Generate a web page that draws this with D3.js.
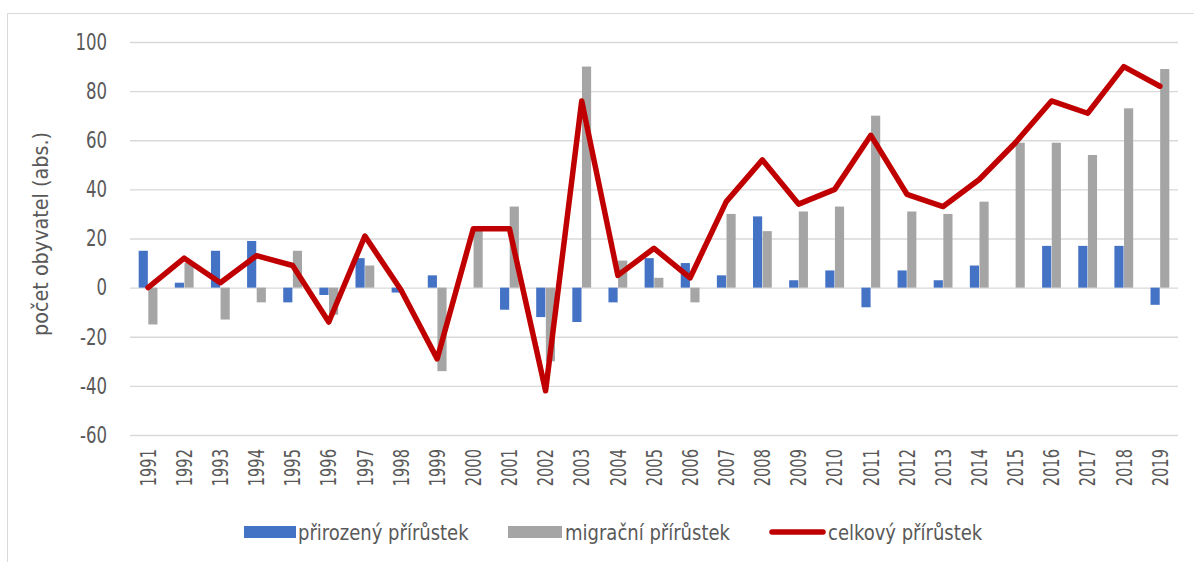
<!DOCTYPE html>
<html>
<head>
<meta charset="utf-8">
<script src="https://cdn.jsdelivr.net/npm/d3@7"></script>
<style>
  body { margin: 0; background: #fff; }
  text { font-family: "Liberation Sans Narrow", "DejaVu Sans Condensed", sans-serif; fill: #595959; }
</style>
</head>
<body>
<div id="chart"></div>
<script>
// data
var years = ["1991","1992","1993","1994","1995","1996","1997","1998","1999","2000",
  "2001","2002","2003","2004","2005","2006","2007","2008","2009","2010",
  "2011","2012","2013","2014","2015","2016","2017","2018","2019"];
var prirozeny = [15, 2, 15, 19, -6, -3, 12, -2, 5, 0,
  -9, -12, -14, -6, 12, 10, 5, 29, 3, 7,
  -8, 7, 3, 9, 0, 17, 17, 17, -7];
var migracni = [-15, 10, -13, -6, 15, -11, 9, 0, -34, 24,
  33, -30, 90, 11, 4, -6, 30, 23, 31, 33,
  70, 31, 30, 35, 59, 59, 54, 73, 89];
var celkovy = [0, 12, 2, 13, 9, -14, 21, -1, -29, 24,
  24, -42, 76, 5, 16, 4, 35, 52, 34, 40,
  62, 38, 33, 44, 59, 76, 71, 90, 82];
var yTicks = [-60, -40, -20, 0, 20, 40, 60, 80, 100];

var svgWidth = 1194, svgHeight = 562;
var plotLeft = 130, plotRight = 1178, plotTop = 42, plotBottom = 435;

var svg = d3.select("#chart").append("svg")
  .attr("width", svgWidth)
  .attr("height", svgHeight);

// chart border
svg.append("rect")
  .attr("x", 7.5).attr("y", 13.5)
  .attr("width", svgWidth).attr("height", svgHeight)
  .attr("fill", "none")
  .attr("stroke", "#d9d9d9");

var xScale = d3.scaleBand().domain(years).range([plotLeft, plotRight]).padding(0);
var xSub = d3.scaleBand().domain(["p", "m"]).range([0, xScale.bandwidth()])
  .paddingInner(0.05).paddingOuter(0.9);
var yScale = d3.scaleLinear().domain([-60, 100]).range([plotBottom, plotTop]);

// gridlines + y labels
var yAxis = d3.axisLeft(yScale).tickValues(yTicks)
  .tickFormat(d => String(d))
  .tickSize(-(plotRight - plotLeft)).tickPadding(22);
var gy = svg.append("g")
  .attr("transform", `translate(${plotLeft},0)`)
  .call(yAxis);
gy.select(".domain").remove();
gy.selectAll(".tick line").attr("stroke", "#d9d9d9").attr("stroke-width", 1.3);
gy.selectAll(".tick text")
  .attr("font-size", 23)
  .attr("transform", "scale(0.8,1)")
  .attr("x", -23 / 0.8)
  .style("fill", "#595959");

// x labels
svg.append("g").selectAll("text")
  .data(years)
  .enter()
  .append("text")
  .attr("transform", d => `translate(${xScale(d) + xScale.bandwidth() / 2},449) rotate(-90) scale(0.74,1)`)
  .attr("text-anchor", "end")
  .attr("dy", "0.35em")
  .attr("font-size", 22)
  .text(d => d);

// bars
function bars(values, key, color) {
  svg.append("g").selectAll("rect")
    .data(values)
    .enter()
    .append("rect")
    .attr("x", (d, i) => xScale(years[i]) + xSub(key))
    .attr("width", xSub.bandwidth())
    .attr("y", d => yScale(Math.max(0, d)))
    .attr("height", d => Math.abs(yScale(d) - yScale(0)))
    .attr("fill", color);
}
bars(prirozeny, "p", "#4472c4");
bars(migracni, "m", "#a5a5a5");

// total line
var line = d3.line()
  .x((d, i) => xScale(years[i]) + xScale.bandwidth() / 2)
  .y(d => yScale(d));
svg.append("path")
  .datum(celkovy)
  .attr("d", line)
  .attr("fill", "none")
  .attr("stroke", "#c00000")
  .attr("stroke-width", 5.5)
  .attr("stroke-linejoin", "round")
  .attr("stroke-linecap", "round");

// y axis title
svg.append("text")
  .attr("transform", "translate(40,234) rotate(-90) scale(0.97,1)")
  .attr("text-anchor", "middle")
  .attr("dy", "0.35em")
  .attr("font-size", 22)
  .text("počet obyvatel (abs.)");

// legend
var lg = svg.append("g");
lg.append("rect").attr("x", 244).attr("y", 526).attr("width", 52).attr("height", 12).attr("fill", "#4472c4");
lg.append("text").attr("transform", "translate(298,532) scale(0.91,1)").attr("dy", "0.35em").attr("font-size", 22).text("přirozený přírůstek");
lg.append("rect").attr("x", 508).attr("y", 526).attr("width", 54).attr("height", 12).attr("fill", "#a5a5a5");
lg.append("text").attr("transform", "translate(565,532) scale(0.91,1)").attr("dy", "0.35em").attr("font-size", 22).text("migrační přírůstek");
lg.append("line").attr("x1", 772).attr("x2", 823).attr("y1", 532).attr("y2", 532)
  .attr("stroke", "#c00000").attr("stroke-width", 5.5).attr("stroke-linecap", "round");
lg.append("text").attr("transform", "translate(828,532) scale(0.91,1)").attr("dy", "0.35em").attr("font-size", 22).text("celkový přírůstek");
</script>
</body>
</html>
